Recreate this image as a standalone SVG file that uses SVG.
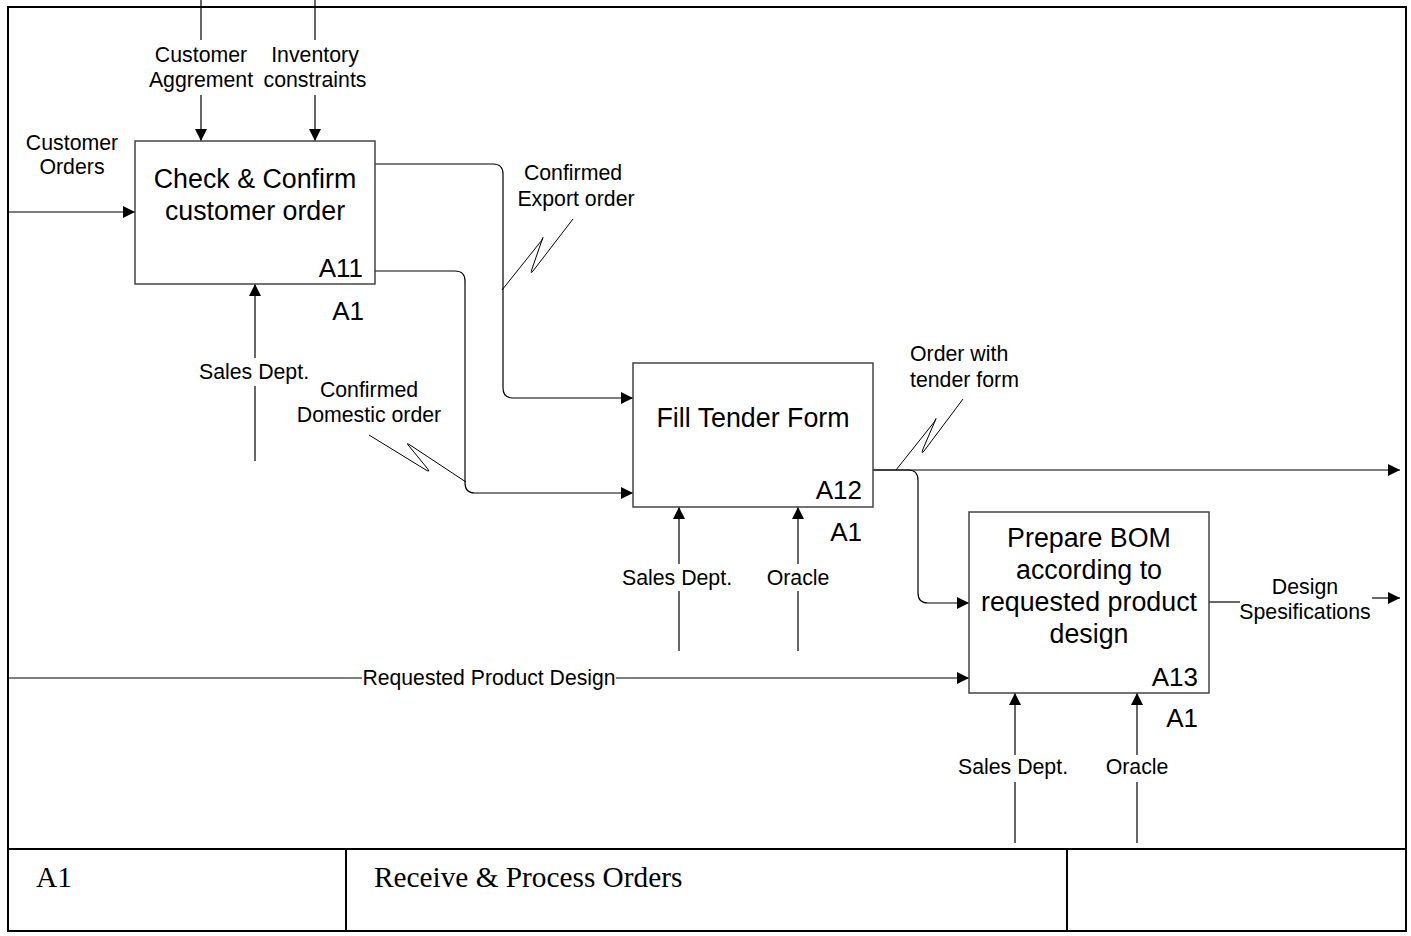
<svg xmlns="http://www.w3.org/2000/svg" width="1411" height="936" viewBox="0 0 1411 936">
  <style>
    .frame { fill: none; stroke: #000; stroke-width: 2; }
    .box { fill: #fff; stroke: #444; stroke-width: 1.5; }
    .arc { fill: none; stroke: #000; stroke-width: 1.2; }
    .sq { fill: none; stroke: #000; stroke-width: 1; stroke-linejoin: round; }
    .title { font-family: "Liberation Sans", Arial, sans-serif; font-size: 26.8px; text-anchor: middle; fill: #000; }
    .num { font-family: "Liberation Sans", Arial, sans-serif; font-size: 26px; text-anchor: end; fill: #000; }
    .lbl { font-family: "Liberation Sans", Arial, sans-serif; font-size: 21.3px; text-anchor: middle; fill: #000; }
    .foot { font-family: "Liberation Serif", "Times New Roman", serif; font-size: 29.3px; fill: #000; }
  </style>
  <defs>
    <marker id="arrow" viewBox="0 0 12 12" refX="12" refY="6" markerWidth="12" markerHeight="12" markerUnits="userSpaceOnUse" orient="auto">
      <path d="M0,0 L12,6 L0,12 Z" fill="#000"/>
    </marker>
  </defs>
  <rect width="1411" height="936" fill="#fff"/>

  <!-- drawing frame and footer -->
  <g id="frame">
    <rect class="frame" x="8" y="7" width="1398" height="924"/>
    <line class="frame" x1="8" y1="849" x2="1406" y2="849"/>
    <line class="frame" x1="346" y1="849" x2="346" y2="931"/>
    <line class="frame" x1="1067" y1="849" x2="1067" y2="931"/>
    <text class="foot" x="36" y="887">A1</text>
    <text class="foot" x="374" y="887">Receive &amp; Process Orders</text>
  </g>

  <!-- arrows between activities -->
  <g id="connectors">
    <!-- A11 controls -->
    <line class="arc" x1="201" y1="0" x2="201" y2="40"/>
    <line class="arc" x1="201" y1="95" x2="201" y2="141" marker-end="url(#arrow)"/>
    <line class="arc" x1="315" y1="0" x2="315" y2="40"/>
    <line class="arc" x1="315" y1="95" x2="315" y2="141" marker-end="url(#arrow)"/>
    <!-- A11 input -->
    <line class="arc" x1="8" y1="212" x2="135" y2="212" marker-end="url(#arrow)"/>
    <!-- A11 mechanism -->
    <line class="arc" x1="255" y1="461" x2="255" y2="386"/>
    <line class="arc" x1="255" y1="358" x2="255" y2="284" marker-end="url(#arrow)"/>
    <!-- A11 outputs -->
    <path class="arc" d="M375,164 H493 Q503,164 503,174 V388 Q503,398 513,398 H633" marker-end="url(#arrow)"/>
    <path class="arc" d="M375,271 H455 Q465,271 465,281 V483 Q465,493 475,493 H633" marker-end="url(#arrow)"/>
    <path class="sq" d="M573,219 L533,271 Q530,275 532,269 L542,240 Q544,235 542,240 L502,290"/>
    <path class="sq" d="M369,435 L426,470 Q431,473 427,468 L409,446 Q405,442 410,445 L466,482"/>
    <!-- A12 mechanisms -->
    <line class="arc" x1="679" y1="651" x2="679" y2="591"/>
    <line class="arc" x1="679" y1="564" x2="679" y2="507" marker-end="url(#arrow)"/>
    <line class="arc" x1="798" y1="651" x2="798" y2="591"/>
    <line class="arc" x1="798" y1="564" x2="798" y2="507" marker-end="url(#arrow)"/>
    <!-- A12 output -->
    <line class="arc" x1="873" y1="470" x2="1400" y2="470" marker-end="url(#arrow)"/>
    <path class="arc" d="M873,470 H908 Q918,470 918,480 V593 Q918,603 928,603 H969" marker-end="url(#arrow)"/>
    <path class="sq" d="M963,399 L924,451 Q921,455 923,449 L935,421 Q937,416 935,421 L896,470"/>
    <!-- A13 input -->
    <line class="arc" x1="8" y1="678" x2="362" y2="678"/>
    <line class="arc" x1="616" y1="678" x2="969" y2="678" marker-end="url(#arrow)"/>
    <!-- A13 mechanisms -->
    <line class="arc" x1="1015" y1="843" x2="1015" y2="782"/>
    <line class="arc" x1="1015" y1="755" x2="1015" y2="693" marker-end="url(#arrow)"/>
    <line class="arc" x1="1137" y1="843" x2="1137" y2="782"/>
    <line class="arc" x1="1137" y1="755" x2="1137" y2="693" marker-end="url(#arrow)"/>
    <!-- A13 output -->
    <line class="arc" x1="1209" y1="602" x2="1240" y2="602"/>
    <line class="arc" x1="1372" y1="598" x2="1400" y2="598" marker-end="url(#arrow)"/>

    <!-- arrow labels -->
    <text class="lbl" x="201" y="62">Customer</text>
    <text class="lbl" x="201" y="87">Aggrement</text>
    <text class="lbl" x="315" y="62">Inventory</text>
    <text class="lbl" x="315" y="87">constraints</text>
    <text class="lbl" x="72" y="150">Customer</text>
    <text class="lbl" x="72" y="174">Orders</text>
    <text class="lbl" x="254" y="379">Sales Dept.</text>
    <text class="lbl" x="573" y="180">Confirmed</text>
    <text class="lbl" x="576" y="206">Export order</text>
    <text class="lbl" x="369" y="397">Confirmed</text>
    <text class="lbl" x="369" y="422">Domestic order</text>
    <text class="lbl" x="677" y="585">Sales Dept.</text>
    <text class="lbl" x="798" y="585">Oracle</text>
    <text class="lbl" x="910" y="361" style="text-anchor:start">Order with</text>
    <text class="lbl" x="910" y="387" style="text-anchor:start">tender form</text>
    <text class="lbl" x="489" y="685" textLength="253" lengthAdjust="spacingAndGlyphs">Requested Product Design</text>
    <text class="lbl" x="1013" y="774">Sales Dept.</text>
    <text class="lbl" x="1137" y="774">Oracle</text>
    <text class="lbl" x="1305" y="594">Design</text>
    <text class="lbl" x="1305" y="619">Spesifications</text>
  </g>

  <g id="A11">
    <rect class="box" x="135" y="141" width="240" height="143"/>
    <text class="title" x="255" y="188">Check &amp; Confirm</text>
    <text class="title" x="255" y="220">customer order</text>
    <text class="num" x="363" y="277">A11</text>
    <text class="num" x="364" y="320">A1</text>
  </g>

  <g id="A12">
    <rect class="box" x="633" y="363" width="240" height="144"/>
    <text class="title" x="753" y="427">Fill Tender Form</text>
    <text class="num" x="862" y="499">A12</text>
    <text class="num" x="862" y="541">A1</text>
  </g>

  <g id="A13">
    <rect class="box" x="969" y="512" width="240" height="181"/>
    <text class="title" x="1089" y="547">Prepare BOM</text>
    <text class="title" x="1089" y="579">according to</text>
    <text class="title" x="1089" y="611">requested product</text>
    <text class="title" x="1089" y="643">design</text>
    <text class="num" x="1198" y="686">A13</text>
    <text class="num" x="1198" y="727">A1</text>
  </g>
</svg>
